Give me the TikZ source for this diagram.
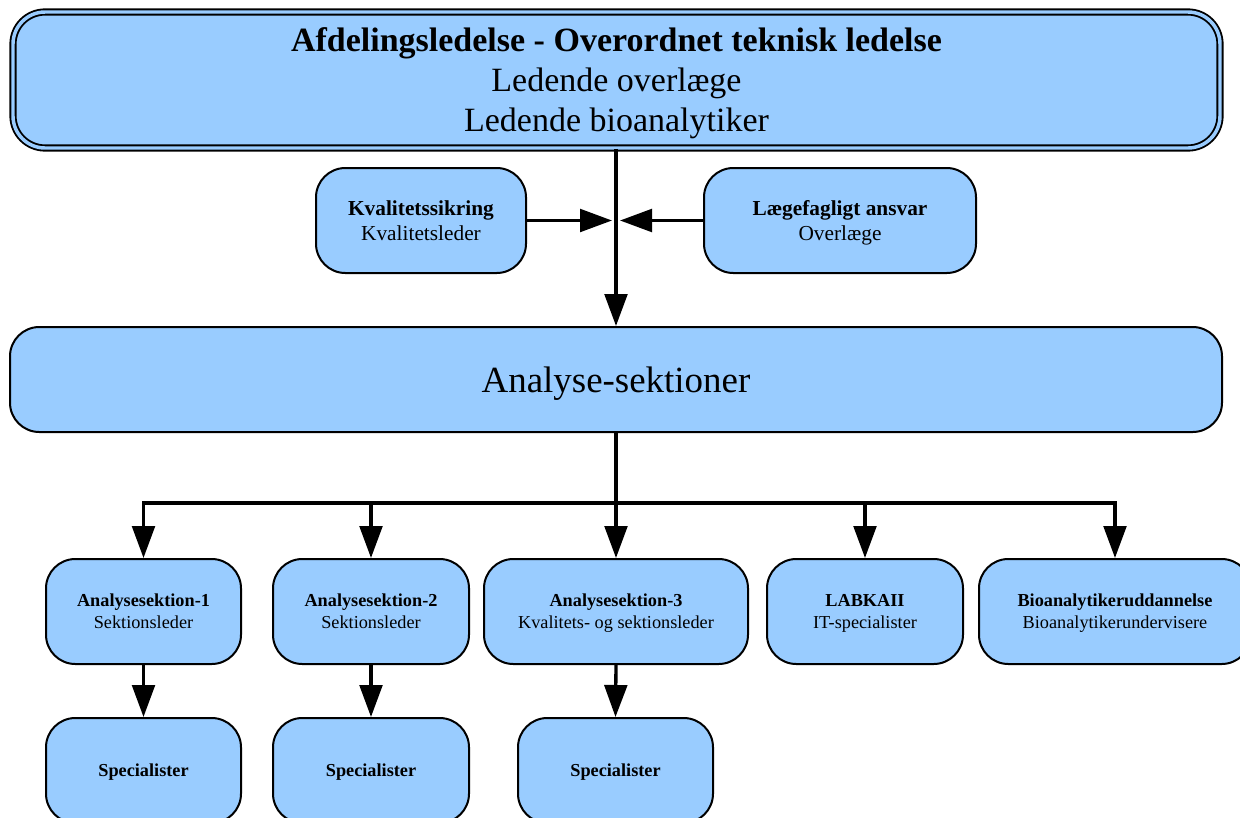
\documentclass[tikz,border=0pt]{standalone}
\usepackage{fontspec}
\setmainfont{Liberation Serif}
\usetikzlibrary{arrows.meta}
\definecolor{boxblue}{RGB}{153,204,255}
\tikzset{
  box/.style={draw=black, line width=1.5pt, fill=boxblue, rounded corners=22pt,
    inner sep=0pt, minimum height=78.75pt, align=center, text depth=0pt},
  conn/.style={line width=2.5pt},
  arr/.style={conn, -{Triangle[length=24pt,width=17pt]}},
  smalltxt/.style={font=\fontsize{13.7}{16.5}\selectfont},
  midtxt/.style={font=\fontsize{16}{19}\selectfont}
}
\begin{document}
\begin{tikzpicture}[x=0.75pt,y=-0.75pt]
\useasboundingbox (0,0) rectangle (1240,818);

% top box (double border)
\node[box, double=boxblue, double distance=2.6pt, line width=1.4pt,
  rounded corners=24pt, minimum width=905.25pt, minimum height=102pt,
  font=\fontsize{25.5}{30}\selectfont] (top) at (616.5,80)
  {\textbf{Afdelingsledelse - Overordnet teknisk ledelse}\\Ledende overlæge\\Ledende bioanalytiker};

\node[box, midtxt, minimum width=157.5pt] (kv) at (421,220.5)
  {\textbf{Kvalitetssikring}\\Kvalitetsleder};
\node[box, midtxt, minimum width=204pt] (lf) at (840,220.5)
  {\textbf{Lægefagligt ansvar}\\Overlæge};

\node[box, minimum width=909pt, font=\fontsize{27.7}{32}\selectfont] (ana) at (616,379.5)
  {Analyse-sektioner};

\node[box, smalltxt, minimum width=146.25pt] (as1) at (143.5,611.5)
  {\textbf{Analysesektion-1}\\Sektionsleder};
\node[box, smalltxt, minimum width=147pt] (as2) at (371,611.5)
  {\textbf{Analysesektion-2}\\Sektionsleder};
\node[box, smalltxt, minimum width=198pt] (as3) at (616,611.5)
  {\textbf{Analysesektion-3}\\Kvalitets- og sektionsleder};
\node[box, smalltxt, minimum width=147pt] (lab) at (865,611.5)
  {\textbf{LABKAII}\\IT-specialister};
\node[box, smalltxt, minimum width=204pt] (bio) at (1115,611.5)
  {\textbf{Bioanalytikeruddannelse}\\Bioanalytikerundervisere};

\node[box, smalltxt, minimum width=146.25pt] (sp1) at (143.5,770.5)
  {\textbf{Specialister}};
\node[box, smalltxt, minimum width=147pt] (sp2) at (371,770.5)
  {\textbf{Specialister}};
\node[box, smalltxt, minimum width=146.25pt] (sp3) at (615.5,770.5)
  {\textbf{Specialister}};

% connectors
\coordinate (kvtip) at (612,220.5);
\coordinate (lftip) at (620,220.5);
\coordinate (bus) at (616,503);

\draw[arr] (top.south -| ana.north) -- (ana.north);
\draw[arr] (kv.east) -- (kvtip);
\draw[arr] (lf.west) -- (lftip);

\draw[arr] (ana.south) |- (bio.north |- bus) -- (bio.north);
\draw[arr] (bus) -| (as1.north);
\draw[arr] (as2.north |- bus) -- (as2.north);
\draw[arr] (as3.north |- bus) -- (as3.north);
\draw[arr] (lab.north |- bus) -- (lab.north);

\draw[arr] (as1.south) -- (sp1.north);
\draw[arr] (as2.south) -- (sp2.north);
\draw[arr] (as3.south) -- (sp3.north);
\end{tikzpicture}
\end{document}
